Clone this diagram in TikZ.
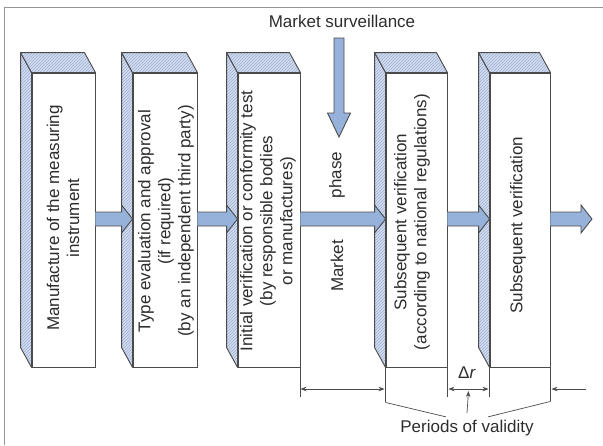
\documentclass[tikz,border=0pt]{standalone}
\usepackage{fontspec}
\setmainfont{Liberation Sans}
\usetikzlibrary{calc,patterns,arrows.meta}
\definecolor{edge}{RGB}{75,75,75}
\definecolor{facefill}{RGB}{210,220,240}
\definecolor{hatchc}{RGB}{160,175,212}
\definecolor{arrowfill}{RGB}{150,178,218}
\definecolor{framec}{RGB}{150,150,150}
\definecolor{txt}{RGB}{45,45,45}
\tikzset{
  frontbox/.style={draw=edge, line width=0.9pt, fill=white, inner sep=0pt, minimum height=294pt},
  sideface/.style={draw=edge, line width=0.9pt, line join=round, preaction={fill=facefill}, pattern=north east lines, pattern color=hatchc},
  boxtext/.style={rotate=90, align=center, text=txt, font=\fontsize{17}{20}\selectfont, inner sep=0pt},
  plaintext/.style={text=txt, font=\fontsize{17}{20}\selectfont, inner sep=0pt},
  dimline/.style={draw=edge, line width=0.7pt},
  dimarrow/.style={draw=edge, line width=0.7pt, arrows={-Stealth[length=6pt,width=4.5pt]}},
  dimboth/.style={draw=edge, line width=0.7pt, arrows={Stealth[length=6pt,width=4.5pt]-Stealth[length=6pt,width=4.5pt]}},
  blockfill/.style={fill=arrowfill},
  blockline/.style={draw=edge, line width=0.9pt, line join=miter}
}
\newcommand\depthfaces[1]{%
  \path[sideface] (#1.north west) -- ($(#1.north west)+(-11,-20)$) -- ($(#1.south west)+(-11,-20)$) -- (#1.south west) -- cycle;
  \path[sideface] (#1.north west) -- ($(#1.north west)+(-11,-20)$) -- ($(#1.north east)+(-11,-20)$) -- (#1.north east) -- cycle;
}
\newcommand\harrow[2]{%
  \path[blockfill] ($(#1)+(0,-7)$) -- ($(#2)+(-11,-7)$) -- ($(#2)+(-11,-14)$) -- (#2) -- ($(#2)+(-11,14)$) -- ($(#2)+(-11,7)$) -- ($(#1)+(0,7)$) -- cycle;
  \path[blockline] ($(#1)+(0,-7)$) -- ($(#2)+(-11,-7)$) -- ($(#2)+(-11,-14)$) -- (#2) -- ($(#2)+(-11,14)$) -- ($(#2)+(-11,7)$) -- ($(#1)+(0,7)$);
}
\begin{document}
\begin{tikzpicture}[x=1pt,y=-1pt]
\useasboundingbox (0,0) rectangle (603,445);
% frame
\draw[framec, line width=1pt] (4,445) -- (4,7) -- (603,7);

% front faces
\node[frontbox, minimum width=63pt] (b1) at (63.5,220) {};
\node[frontbox, minimum width=64pt] (b2) at (165,220) {};
\node[frontbox, minimum width=62pt] (b3) at (269,220) {};
\node[frontbox, minimum width=61pt] (b4) at (416.5,220) {};
\node[frontbox, minimum width=60pt] (b5) at (520,220) {};
\depthfaces{b1}
\depthfaces{b2}
\depthfaces{b3}
\depthfaces{b4}
\depthfaces{b5}

% box texts
\node[boxtext] (t1) at (63,218) {Manufacture of the measuring\\instrument};
\node[boxtext] (t2) at (166,221) {Type evaluation and approval\\(if required)\\(by an independent third party)};
\node[boxtext] (t3) at (268,221) {Initial verification or conformity test\\(by responsible bodies\\or manufactures)};
\node[boxtext] (t4) at (412,222) {Subsequent verification\\(according to national regulations)};
\node[boxtext] (t5) at (518,225) {Subsequent verification};
\node[boxtext] (mk) at (337,266) {Market};
\node[boxtext] (ph) at (337,175) {phase};

% horizontal block arrows
\coordinate (row) at (0,219);
\coordinate (s1) at (b1.east |- row);
\coordinate (e1) at (b2.west |- row);
\coordinate (s2) at (b2.east |- row);
\coordinate (e2) at (b3.west |- row);
\coordinate (s3) at (b3.east |- row);
\coordinate (e3) at (b4.west |- row);
\coordinate (s4) at (b4.east |- row);
\coordinate (e4) at (b5.west |- row);
\coordinate (s5) at (b5.east |- row);
\coordinate (e5) at (592,219);
\harrow{s1}{e1}
\harrow{s2}{e2}
\harrow{s3}{e3}
\harrow{s4}{e4}
\harrow{s5}{e5}

% market surveillance
\node[plaintext] (ms) at (342,21) {Market surveillance};
\coordinate (dtop) at (339,38);
\coordinate (dtip) at (339,137);
\path[blockfill, draw=edge, line width=0.9pt, line join=miter]
  ($(dtop)+(-5,0)$) -- ($(dtip)+(-5,-24)$) -- ($(dtip)+(-11.5,-24)$) -- (dtip)
  -- ($(dtip)+(11.5,-24)$) -- ($(dtip)+(5,-24)$) -- ($(dtop)+(5,0)$) -- cycle;

% dimension lines
\coordinate (dl) at (0,389);
\draw[dimline] (b3.south east) -- ($(b3.south east)+(0,30)$);
\draw[dimline] (b4.south west) -- ($(b4.south west)+(0,35)$) coordinate (k1);
\draw[dimline] (b4.south east) -- ($(b4.south east)+(0,30)$);
\draw[dimline] (b5.south west) -- ($(b5.south west)+(0,30)$);
\draw[dimline] (b5.south east) -- ($(b5.south east)+(0,34)$) coordinate (k2);
\draw[dimboth] (b3.south east |- dl) -- ($(b4.south west |- dl)+(-1,0)$);
\draw[dimboth] ($(b4.south east |- dl)+(1,0)$) -- ($(b5.south west |- dl)+(-1,0)$);
\coordinate (rfree) at (586,389);
\draw[dimarrow] (rfree) -- ($(b5.south east |- dl)+(1,0)$);

\node[plaintext] (dt) at (467,373) {Δ\textit{r}};
\node[plaintext] (pv) at (467,428) {Periods of validity};
\draw[dimline] (k1) -- ($(pv.north)+(-21,-3)$);
\draw[dimline] (k2) -- ($(pv.north)+(21,-3)$);
\coordinate (dtbase) at (467,413);
\draw[dimarrow] (dtbase) -- ($(b4.south east |- dl)!0.5!(b5.south west |- dl)+(0,2)$);
\end{tikzpicture}
\end{document}
